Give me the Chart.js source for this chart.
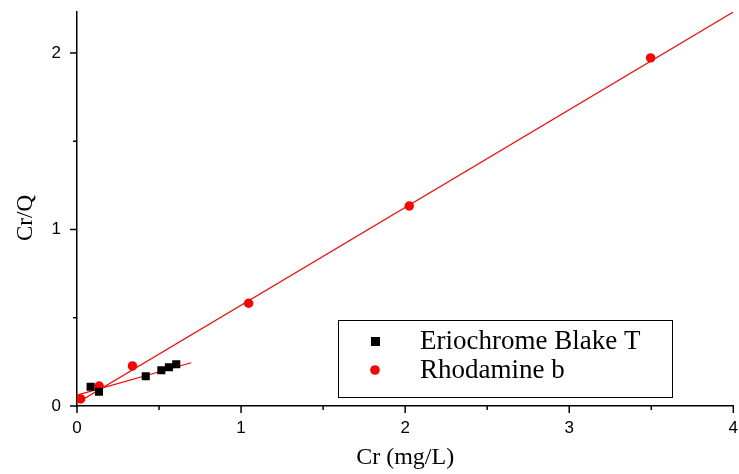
<!DOCTYPE html>
<html>
<head>
<meta charset="utf-8">
<script src="https://cdn.jsdelivr.net/npm/chart.js@4/dist/chart.umd.min.js"></script>
<style>
  html, body { margin: 0; padding: 0; background: #fff; }
  #wrap { width: 739px; height: 474px; }
</style>
</head>
<body>
<div id="wrap"><canvas id="chart" width="739" height="474"></canvas></div>
<script>
// measured points
const erioX = [0.083, 0.134, 0.419, 0.514, 0.560, 0.605];
const erioY = [0.109, 0.081, 0.168, 0.202, 0.219, 0.236];
const rhodX = [0.022, 0.135, 0.338, 1.046, 2.025, 3.496];
const rhodY = [0.040, 0.113, 0.227, 0.582, 1.133, 1.972];

// fit lines, endpoints
const erioFitX = [0, 0.696];
const erioFitY = [0.062, 0.245];
const rhodFitX = [0, 4];
const rhodFitY = [0.017, 2.232];

const seriesNames = ['Eriochrome Blake T', 'Rhodamine b'];
const xTitle = 'Cr (mg/L)';
const yTitle = 'Cr/Q';

const pts = (xs, ys) => xs.map((x, i) => ({ x: x, y: ys[i] }));
const isMajor = v => Math.abs(v - Math.round(v)) < 1e-6;
const SERIF = '"Liberation Serif", "Times New Roman", serif';

// short minor ticks, longer major ticks
const tickMarks = {
    id: 'tickMarks',
    afterDraw(chart) {
        const ctx = chart.ctx;
        const xs = chart.scales.x, ys = chart.scales.y;
        ctx.save();
        ctx.strokeStyle = '#000';
        ctx.lineWidth = 1.5;
        xs.ticks.forEach(t => {
            const px = xs.getPixelForValue(t.value);
            const len = isMajor(t.value) ? 7 : 4;
            ctx.beginPath();
            ctx.moveTo(px, xs.top);
            ctx.lineTo(px, xs.top + len);
            ctx.stroke();
        });
        ys.ticks.forEach(t => {
            const py = ys.getPixelForValue(t.value);
            const len = isMajor(t.value) ? 7 : 4;
            ctx.beginPath();
            ctx.moveTo(ys.right, py);
            ctx.lineTo(ys.right - len, py);
            ctx.stroke();
        });
        // y title sits a bit below the middle in the original
        ctx.translate(26, 218);
        ctx.rotate(-Math.PI / 2);
        ctx.font = '23px ' + SERIF;
        ctx.fillStyle = '#000';
        ctx.textAlign = 'center';
        ctx.textBaseline = 'middle';
        ctx.fillText(yTitle, 0, 0);
        ctx.restore();
    }
};

// boxed legend inside the plot
const boxLegend = {
    id: 'boxLegend',
    afterDraw(chart) {
        const ctx = chart.ctx;
        ctx.save();
        ctx.fillStyle = '#fff';
        ctx.fillRect(338, 320, 334, 77);
        ctx.strokeStyle = '#000';
        ctx.lineWidth = 1;
        ctx.strokeRect(338.5, 320.5, 334, 77);
        ctx.font = '27px ' + SERIF;
        ctx.textBaseline = 'middle';
        ctx.textAlign = 'left';
        ctx.fillStyle = '#000';
        ctx.fillRect(371, 337, 9, 9);
        ctx.fillText(seriesNames[0], 420, 342);
        ctx.fillStyle = '#ff0000';
        ctx.beginPath();
        ctx.arc(375, 370, 4.8, 0, Math.PI * 2);
        ctx.fill();
        ctx.fillStyle = '#000';
        ctx.fillText(seriesNames[1], 420, 371);
        ctx.restore();
    }
};

new Chart(document.getElementById('chart'), {
    type: 'scatter',
    data: {
        datasets: [
            { label: 'erio fit', data: pts(erioFitX, erioFitY), showLine: true, borderColor: '#ff0000', borderWidth: 1.2, pointRadius: 0, order: 2 },
            { label: 'rhod fit', data: pts(rhodFitX, rhodFitY), showLine: true, borderColor: '#ff0000', borderWidth: 1.2, pointRadius: 0, order: 2 },
            { label: seriesNames[0], data: pts(erioX, erioY), pointStyle: 'rect', pointRadius: 5.7, backgroundColor: '#000', borderWidth: 0, order: 1 },
            { label: seriesNames[1], data: pts(rhodX, rhodY), pointStyle: 'circle', pointRadius: 4.7, backgroundColor: '#ff0000', borderWidth: 0, order: 1 }
        ]
    },
    options: {
        responsive: false,
        animation: false,
        layout: { padding: { top: 12, right: 3, left: 0, bottom: 0 } },
        plugins: { legend: { display: false }, tooltip: { enabled: false } },
        scales: {
            x: {
                type: 'linear', min: 0, max: 4,
                grid: { display: false, drawTicks: false },
                border: { display: true, color: '#000', width: 1.5 },
                ticks: {
                    stepSize: 0.5, padding: 12, includeBounds: false, maxRotation: 0, autoSkip: false,
                    color: '#000', font: { family: '"Liberation Sans", Arial, sans-serif', size: 17 },
                    callback: v => isMajor(v) ? String(Math.round(v)) : ''
                },
                title: {
                    display: true, text: xTitle, color: '#000',
                    font: { family: SERIF, size: 24, lineHeight: 1 },
                    padding: { top: 0, bottom: 4 }
                },
                afterFit(s) { s.height = 68; s.paddingLeft = 0; s.paddingRight = 0; }
            },
            y: {
                type: 'linear', min: 0, max: 2.232,
                grid: { display: false, drawTicks: false },
                border: { display: true, color: '#000', width: 1.5 },
                ticks: {
                    stepSize: 0.5, padding: 16, includeBounds: false, autoSkip: false,
                    color: '#000', font: { family: '"Liberation Sans", Arial, sans-serif', size: 17 },
                    callback: v => isMajor(v) ? String(Math.round(v)) : ''
                },
                afterFit(s) { s.width = 77; s.paddingTop = 0; s.paddingBottom = 0; }
            }
        }
    },
    plugins: [tickMarks, boxLegend]
});
</script>
</body>
</html>
